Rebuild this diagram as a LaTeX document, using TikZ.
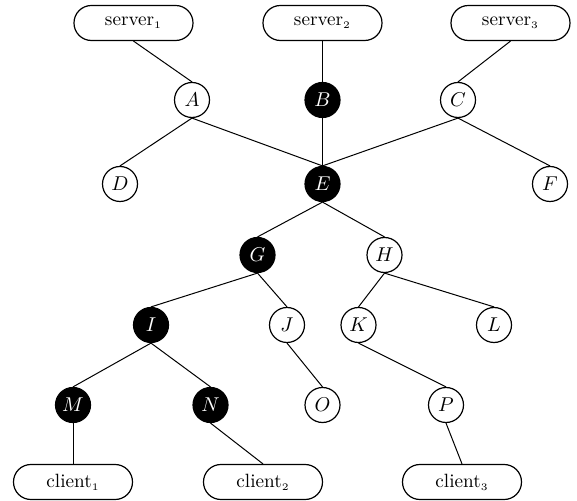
\documentclass[tikz,border=0pt]{standalone}
\begin{document}
\begin{tikzpicture}[x=0.5pt,y=-0.5pt,
  every node/.style={font=\fontsize{9.6}{11.5}\selectfont},
  vtx/.style={circle,draw,line width=0.6pt,minimum size=17.5pt,inner sep=0pt},
  blk/.style={vtx,fill=black,text=white},
  endbox/.style={draw,line width=0.6pt,rounded corners=8.7pt,minimum width=59.5pt,minimum height=17.5pt,inner sep=0pt},
  edge/.style={line width=0.5pt}]
\useasboundingbox (0,0) rectangle (577,501);
\node[endbox] (s1) at (133.5,23) {server$_{\scriptscriptstyle 1}$};
\node[endbox] (s2) at (322.5,23) {server$_{\scriptscriptstyle 2}$};
\node[endbox] (s3) at (510.5,23) {server$_{\scriptscriptstyle 3}$};
\node[vtx] (A) at (192,100) {$A$};
\node[blk] (B) at (322.5,100) {$B$};
\node[vtx] (C) at (458,100) {$C$};
\node[vtx] (D) at (120,184) {$D$};
\node[blk] (E) at (322.5,184) {$E$};
\node[vtx] (F) at (550,184) {$F$};
\node[blk] (G) at (257.5,255) {$G$};
\node[vtx] (H) at (384.5,255) {$H$};
\node[blk] (I) at (151,325) {$I$};
\node[vtx] (J) at (287,325) {$J$};
\node[vtx] (K) at (358.5,325) {$K$};
\node[vtx] (L) at (494,325) {$L$};
\node[blk] (M) at (73,405) {$M$};
\node[blk] (N) at (210.5,405) {$N$};
\node[vtx] (O) at (322.5,405) {$O$};
\node[vtx] (P) at (446,405) {$P$};
\node[endbox] (c1) at (73,482) {client$_{\scriptscriptstyle 1}$};
\node[endbox] (c2) at (263,482) {client$_{\scriptscriptstyle 2}$};
\node[endbox] (c3) at (462,482) {client$_{\scriptscriptstyle 3}$};
\foreach \a/\b in {s1/A,s2/B,s3/C,A/D,A/E,B/E,C/E,C/F,E/G,E/H,G/I,G/J,H/K,H/L,I/M,I/N,J/O,K/P,M/c1,N/c2,P/c3}
  \draw[edge] (\a.south) -- (\b.north);
\end{tikzpicture}
\end{document}
